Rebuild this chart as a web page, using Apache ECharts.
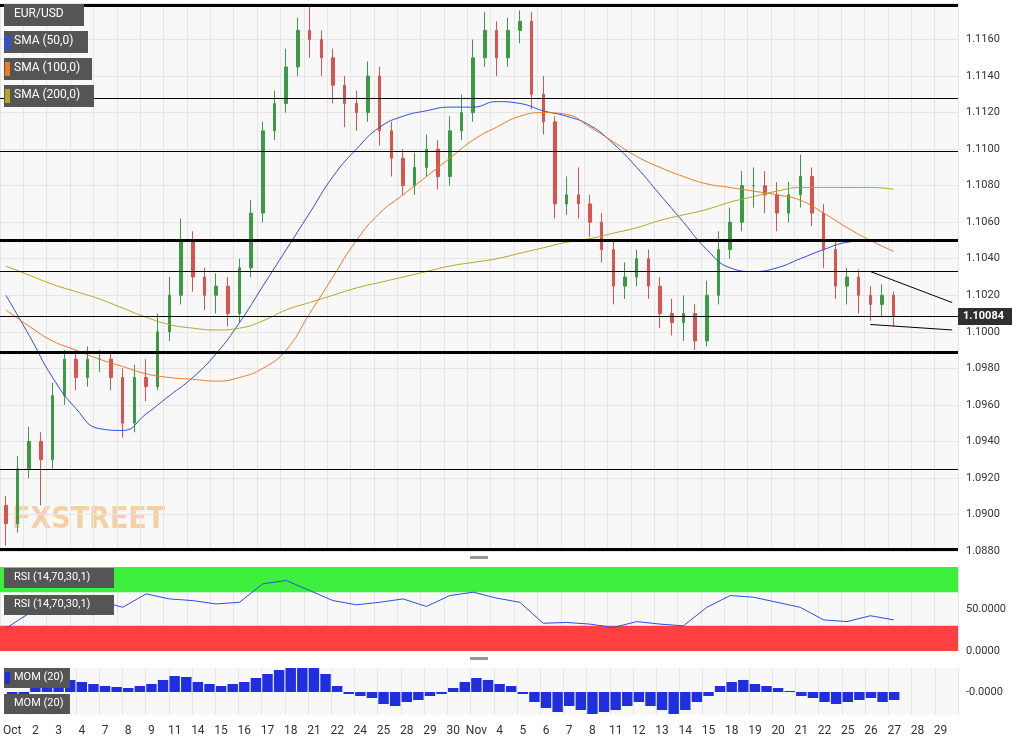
<!DOCTYPE html>
<html>
<head>
<meta charset="utf-8">
<script src="https://cdn.jsdelivr.net/npm/echarts@6/dist/echarts.min.js"></script>
<style>html,body{margin:0;padding:0;background:#fff}#chart{width:1029px;height:743px}</style>
</head>
<body>
<div id="chart"></div>
<script>
// date labels, one per slot (2 candles per slot)
var slotLabels = ['Oct','2','3','4','7','8','9','11','14','15','16','17','18','21','22','24','25','28','29','30',
  'Nov','4','5','6','7','8','11','12','13','14','15','18','19','20','21','22','25','26','27','28','29'];

var firstOpen = 1.0905;
var closes = [1.0895,1.0925,1.0940,1.0930,1.0965,1.0985,1.0975,1.0985,1.0985,1.0975,1.0950,1.0975,1.0970,1.1000,
  1.1020,1.1050,1.1030,1.1020,1.1025,1.1010,1.1035,1.1065,1.1110,1.1125,1.1145,1.1165,1.1160,1.1150,1.1135,1.1125,
  1.1120,1.1140,1.1110,1.1095,1.1080,1.1090,1.1100,1.1085,1.1110,1.1120,1.1150,1.1165,1.1150,1.1165,1.1170,1.1130,
  1.1115,1.1070,1.1075,1.1070,1.1060,1.1045,1.1025,1.1030,1.1040,1.1025,1.1010,1.1005,1.1010,1.0995,1.1020,1.1045,
  1.1060,1.1080,1.1080,1.1075,1.1065,1.1075,1.1085,1.1065,1.1045,1.1025,1.1030,1.1020,1.1015,1.1020,1.10084];
var lows = [1.0883,1.0890,1.0920,1.0905,1.0925,1.0960,1.0968,1.0970,1.0978,1.0968,1.0942,1.0945,1.0962,1.0968,
  1.0995,1.1015,1.1022,1.1012,1.1010,1.1003,1.1005,1.1030,1.1060,1.1105,1.1120,1.1140,1.1150,1.1140,1.1125,1.1112,
  1.1110,1.1115,1.1102,1.1085,1.1075,1.1075,1.1085,1.1078,1.1080,1.1105,1.1115,1.1145,1.1140,1.1145,1.1158,1.1122,
  1.1108,1.1062,1.1064,1.1062,1.1052,1.1038,1.1015,1.1018,1.1025,1.1018,1.1002,1.0998,1.0995,1.0990,1.0992,1.1015,
  1.1040,1.1055,1.1068,1.1065,1.1055,1.1060,1.1068,1.1058,1.1035,1.1018,1.1015,1.1010,1.1006,1.1008,1.1003];
var highs = [1.0910,1.0932,1.0948,1.0945,1.0972,1.0990,1.0990,1.0992,1.0990,1.0988,1.0980,1.0982,1.0985,1.1010,
  1.1030,1.1062,1.1055,1.1035,1.1032,1.1030,1.1040,1.1072,1.1115,1.1132,1.1155,1.1172,1.1178,1.1165,1.1155,1.1140,
  1.1132,1.1148,1.1145,1.1115,1.1100,1.1098,1.1108,1.1105,1.1118,1.1130,1.1160,1.1175,1.1170,1.1172,1.1176,1.1175,
  1.1140,1.1118,1.1085,1.1090,1.1075,1.1065,1.1050,1.1038,1.1045,1.1045,1.1030,1.1018,1.1020,1.1015,1.1028,1.1055,
  1.1068,1.1088,1.1090,1.1088,1.1082,1.1082,1.1097,1.1090,1.1070,1.1050,1.1035,1.1034,1.1025,1.1026,1.1022];

// indicator values, one per slot
var sma50 = [1.1020,1.0998,1.0975,1.0958,1.0947,1.0946,1.0955,1.0965,1.0975,1.0988,1.1005,1.1025,1.1045,1.1065,1.1085,
  1.1100,1.1112,1.1118,1.1121,1.1123,1.1123,1.1126,1.1125,1.1121,1.1118,1.1113,1.1103,1.1090,1.1075,1.1060,1.1045,
  1.1035,1.1033,1.1035,1.1040,1.1045,1.1049,1.1050,1.1050];
var sma100 = [1.1012,1.1003,1.0995,1.0990,1.0985,1.0981,1.0977,1.0975,1.0974,1.0973,1.0975,1.0980,1.0990,1.1010,1.1030,
  1.1050,1.1065,1.1075,1.1085,1.1095,1.1105,1.1112,1.1118,1.1120,1.1119,1.1112,1.1104,1.1096,1.1090,1.1085,1.1081,
  1.1079,1.1077,1.1075,1.1072,1.1065,1.1057,1.1050,1.1044];
var sma200 = [1.1036,1.1031,1.1026,1.1022,1.1018,1.1013,1.1008,1.1004,1.1002,1.1001,1.1002,1.1006,1.1012,1.1016,1.1020,
  1.1024,1.1027,1.1030,1.1033,1.1036,1.1038,1.1040,1.1043,1.1046,1.1049,1.1051,1.1054,1.1057,1.1061,1.1064,1.1067,
  1.1071,1.1074,1.1077,1.1079,1.1079,1.1079,1.1079,1.1078];
var rsi = [27,45,55,57,60,52,68,62,60,56,58,80,84,72,60,55,58,62,53,66,70,63,58,33,34,32,28,35,32,30,52,66,64,58,52,37,35,42,37];
// momentum, one per candle
var mom = [-10,-5,5,8,10,12,10,8,6,5,4,6,8,12,16,15,10,8,6,8,10,14,18,22,26,27,24,18,6,-2,-4,-6,-12,-14,-10,-8,-4,-2,
  4,10,14,12,8,6,-2,-10,-16,-20,-14,-18,-22,-20,-18,-14,-10,-14,-18,-22,-18,-10,-4,6,10,12,8,6,4,1,-4,-6,-10,-12,
  -10,-8,-6,-10,-8];

var levelsThick = [1.1179, 1.1050, 1.0989, 1.0881];
var levelsThin = [1.1128, 1.1099, 1.1033, 1.10084, 1.0925];
var lastPrice = '1.10084';

var nCat = slotLabels.length * 2;
var cats = [];
for (var i = 0; i < nCat; i++) cats.push(i % 2 === 0 ? slotLabels[i / 2] : '');

var candles = closes.map(function (c, i) {
  var o = i === 0 ? firstOpen : closes[i - 1];
  return [o, c, lows[i], highs[i]];
});
function perSlot(arr) { return arr.map(function (v, k) { return [2 * k, v]; }); }

var markLines = [];
levelsThick.forEach(function (v) { markLines.push({ yAxis: v, lineStyle: { width: 3 } }); });
levelsThin.forEach(function (v) { markLines.push({ yAxis: v, lineStyle: { width: 1 } }); });
markLines.push([{ coord: [74, 1.1033] }, { coord: [81, 1.1016] }]);
markLines.push([{ coord: [74, 1.1004] }, { coord: [81, 1.1001] }]);

var axisCommon = {
  type: 'category', data: cats, boundaryGap: true,
  axisTick: { show: false }, axisLine: { show: false },
  splitLine: { show: true, interval: function (i) { return i % 2 === 0; }, lineStyle: { color: '#e6e6e6' } }
};

// legend boxes drawn on top of the plot
function box(x, y, w, h, text, swatch, size) {
  var els = [{ type: 'rect', z: 100, shape: { x: x, y: y, width: w, height: h }, style: { fill: '#555' } }];
  if (swatch) els.push({ type: 'rect', z: 101, shape: { x: x + 1, y: y + 4, width: 5, height: h - 8 }, style: { fill: swatch } });
  els.push({ type: 'text', z: 101, x: x + 10, y: y + h / 2 - size / 2 - 1, style: { text: text, font: size + 'px Roboto', fill: '#fff' } });
  return els;
}

var graphics = [
  { type: 'text', left: 12, top: 505, style: { text: 'FXSTREET', font: 'bold 30px "DejaVu Sans Condensed", sans-serif', fill: 'rgba(240,160,60,0.45)' } },
  { type: 'rect', z: 100, shape: { x: 958, y: 308, width: 54, height: 17 }, style: { fill: '#2f2f2f' } },
  { type: 'text', z: 101, x: 963, y: 311, style: { text: lastPrice, font: 'bold 11px Roboto', fill: '#fff' } },
  { type: 'rect', shape: { x: 470, y: 556, width: 18, height: 3 }, style: { fill: '#999' } },
  { type: 'rect', shape: { x: 470, y: 657, width: 18, height: 3 }, style: { fill: '#999' } }
].concat(
  box(4, 4, 80, 22, 'EUR/USD', null, 12),
  box(4, 31, 84, 22, 'SMA (50,0)', '#2b4fe0', 12),
  box(4, 58, 88, 22, 'SMA (100,0)', '#f07a26', 12),
  box(4, 85, 90, 22, 'SMA (200,0)', '#b4a626', 12),
  box(4, 568, 110, 20, 'RSI (14,70,30,1)', null, 11),
  box(4, 595, 110, 20, 'RSI (14,70,30,1)', null, 11),
  box(4, 668, 66, 20, 'MOM (20)', '#1f2fe0', 11),
  box(4, 694, 66, 20, 'MOM (20)', null, 11)
);

var chart = echarts.init(document.getElementById('chart'));
chart.setOption({
  animation: false,
  backgroundColor: '#ffffff',
  textStyle: { fontFamily: 'Roboto, sans-serif' },
  grid: [
    { left: 0, right: 71, top: 3, height: 548, backgroundColor: '#f8f8f8', show: true, borderWidth: 0 },
    { left: 0, right: 71, top: 567, height: 84, backgroundColor: '#f8f8f8', show: true, borderWidth: 0 },
    { left: 0, right: 71, top: 668, height: 47, backgroundColor: '#f8f8f8', show: true, borderWidth: 0 }
  ],
  xAxis: [
    Object.assign({ gridIndex: 0, axisLabel: { show: false } }, axisCommon),
    Object.assign({ gridIndex: 1, axisLabel: { show: false } }, axisCommon),
    Object.assign({ gridIndex: 2, axisLabel: { show: true, interval: 1, color: '#333', fontSize: 12, margin: 10 } }, axisCommon)
  ],
  yAxis: [
    { gridIndex: 0, position: 'right', min: 1.0880, max: 1.1180, interval: 0.002,
      axisLabel: { color: '#333', fontSize: 11, showMaxLabel: false, showMinLabel: true,
        formatter: function (v) { return v.toFixed(4); } },
      axisLine: { show: false }, splitLine: { lineStyle: { color: '#e6e6e6' } } },
    { gridIndex: 1, position: 'right', min: 0, max: 100, interval: 50,
      axisLabel: { color: '#333', fontSize: 11, showMaxLabel: false, formatter: function (v) { return v.toFixed(4); } },
      splitLine: { show: false } },
    { gridIndex: 2, position: 'right', min: -23, max: 24, interval: 23,
      axisLabel: { color: '#333', fontSize: 11, formatter: function (v) { return v === 0 ? '-0.0000' : ''; } },
      splitLine: { show: false } }
  ],
  series: [
    { type: 'candlestick', xAxisIndex: 0, yAxisIndex: 0, data: candles, barWidth: 3,
      itemStyle: { color: '#3c9a46', color0: '#d9534f', borderColor: '#3c9a46', borderColor0: '#d9534f' } },
    { type: 'line', name: 'SMA50', data: perSlot(sma50), showSymbol: false, lineStyle: { color: '#2b4fe0', width: 1 }, smooth: true,
      markLine: { silent: true, symbol: 'none', precision: 5, label: { show: false }, lineStyle: { color: '#000', type: 'solid' }, data: markLines } },
    { type: 'line', name: 'SMA100', data: perSlot(sma100), showSymbol: false, lineStyle: { color: '#f07a26', width: 1 }, smooth: true },
    { type: 'line', name: 'SMA200', data: perSlot(sma200), showSymbol: false, lineStyle: { color: '#b4a626', width: 1 }, smooth: true },
    { type: 'line', xAxisIndex: 1, yAxisIndex: 1, data: perSlot(rsi), showSymbol: false, lineStyle: { color: '#2b4fe0', width: 1 },
      markArea: { silent: true, data: [
        [{ yAxis: 70, itemStyle: { color: '#3df03d', opacity: 1 } }, { yAxis: 100 }],
        [{ yAxis: 0, itemStyle: { color: '#ff4040', opacity: 1 } }, { yAxis: 30 }]
      ] }, z: 3 },
    { type: 'bar', xAxisIndex: 2, yAxisIndex: 2, data: mom, barWidth: '90%', itemStyle: { color: '#1f2fe0' } }
  ],
  graphic: graphics
});
</script>
</body>
</html>
